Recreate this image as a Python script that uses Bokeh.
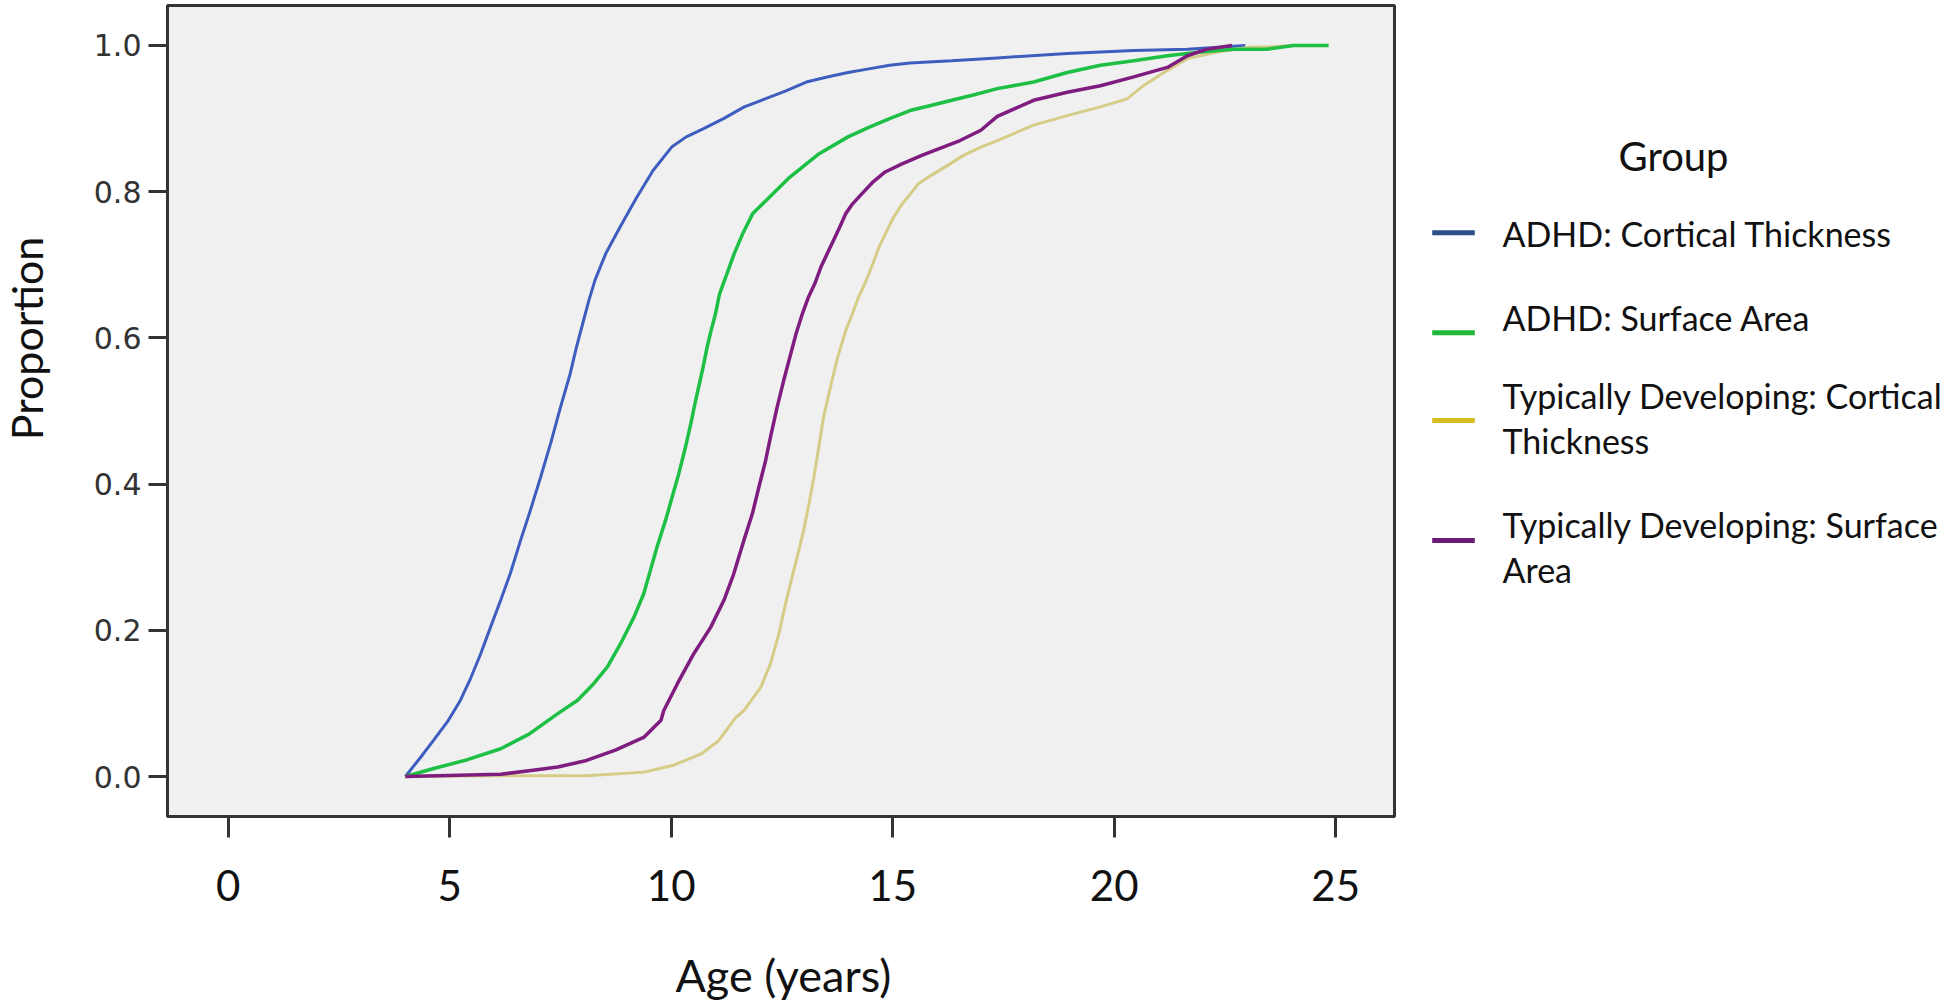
import numpy as np
from bokeh.plotting import figure
from bokeh.layouts import row, column
from bokeh.models import Range1d, FixedTicker, PrintfTickFormatter
from bokeh.core.properties import value
from bokeh.embed import file_html
from bokeh.resources import INLINE

# ---------------- data ----------------
blue_age = [4.00, 4.34, 4.63, 4.95, 5.24, 5.47, 5.70, 5.92, 6.15, 6.37, 6.60, 6.82, 7.05, 7.28, 7.50,
            7.72, 7.86, 8.00, 8.14, 8.28, 8.52, 8.84, 9.22, 9.59, 10.01, 10.34, 10.72, 11.18, 11.65,
            12.12, 12.59, 13.05, 13.52, 13.99, 14.46, 14.93, 15.39, 16.33, 17.36, 18.94, 20.44, 21.65, 22.96]
blue_prop = [0.000, 0.026, 0.049, 0.075, 0.104, 0.134, 0.168, 0.204, 0.241, 0.278, 0.323, 0.364, 0.409,
             0.456, 0.505, 0.551, 0.587, 0.619, 0.651, 0.679, 0.715, 0.751, 0.792, 0.829, 0.861, 0.875,
             0.886, 0.900, 0.916, 0.927, 0.938, 0.950, 0.957, 0.963, 0.968, 0.973, 0.976, 0.979, 0.983,
             0.989, 0.993, 0.995, 1.000]

green_age = [4.00, 4.64, 5.40, 6.15, 6.79, 7.44, 7.88, 8.25, 8.56, 8.86, 9.16, 9.38, 9.53, 9.68, 9.87,
             10.02, 10.17, 10.32, 10.44, 10.55, 10.72, 10.81, 10.90, 11.00, 11.09, 11.23, 11.42, 11.61,
             11.84, 12.21, 12.68, 13.34, 13.99, 14.46, 14.93, 15.39, 15.86, 16.33, 16.80, 17.36, 18.18,
             18.94, 19.69, 20.44, 21.20, 21.95, 22.69, 23.45, 24.05, 24.84]
green_prop = [0.000, 0.011, 0.023, 0.038, 0.058, 0.086, 0.104, 0.127, 0.150, 0.182, 0.218, 0.250, 0.282,
              0.314, 0.350, 0.382, 0.414, 0.450, 0.482, 0.514, 0.560, 0.587, 0.610, 0.633, 0.660, 0.683,
              0.715, 0.742, 0.770, 0.792, 0.820, 0.852, 0.875, 0.888, 0.900, 0.911, 0.918, 0.925, 0.932,
              0.941, 0.950, 0.963, 0.973, 0.979, 0.986, 0.991, 0.995, 0.995, 1.000, 1.000]

yellow_age = [4.00, 6.15, 8.09, 9.39, 10.03, 10.68, 11.07, 11.46, 11.64, 12.02, 12.24, 12.43, 12.58,
              12.73, 12.88, 12.99, 13.11, 13.22, 13.33, 13.44, 13.63, 13.76, 13.85, 13.94, 14.09, 14.23,
              14.37, 14.55, 14.69, 14.83, 15.02, 15.21, 15.40, 15.58, 15.86, 16.24, 16.61, 16.99, 17.36,
              18.18, 18.94, 19.69, 20.29, 20.66, 21.20, 21.65, 22.33, 23.08, 23.45, 24.05]
yellow_prop = [0.000, 0.001, 0.001, 0.006, 0.015, 0.031, 0.049, 0.081, 0.090, 0.122, 0.154, 0.195, 0.236,
               0.273, 0.309, 0.337, 0.373, 0.409, 0.450, 0.492, 0.542, 0.574, 0.592, 0.610, 0.633, 0.656,
               0.674, 0.701, 0.724, 0.742, 0.765, 0.783, 0.797, 0.811, 0.822, 0.836, 0.850, 0.861, 0.870,
               0.891, 0.904, 0.916, 0.927, 0.945, 0.966, 0.982, 0.991, 0.998, 0.998, 1.000]

purple_age = [4.00, 6.15, 6.79, 7.44, 8.09, 8.74, 9.39, 9.77, 9.83, 10.14, 10.51, 10.89, 11.19, 11.41,
              11.64, 11.83, 11.98, 12.13, 12.24, 12.39, 12.54, 12.68, 12.82, 12.96, 13.10, 13.24, 13.38,
              13.52, 13.66, 13.80, 13.94, 14.09, 14.27, 14.55, 14.83, 15.21, 15.67, 16.05, 16.52, 16.99,
              17.36, 18.18, 18.94, 19.69, 20.44, 21.20, 21.65, 22.10, 22.66]
purple_prop = [0.000, 0.003, 0.008, 0.013, 0.022, 0.036, 0.054, 0.077, 0.090, 0.127, 0.168, 0.204, 0.241,
               0.277, 0.323, 0.359, 0.396, 0.432, 0.464, 0.505, 0.542, 0.574, 0.606, 0.633, 0.656, 0.674,
               0.697, 0.715, 0.733, 0.751, 0.770, 0.783, 0.795, 0.813, 0.827, 0.838, 0.850, 0.859, 0.870,
               0.884, 0.903, 0.925, 0.936, 0.945, 0.957, 0.970, 0.986, 0.995, 1.000]

legend_title = "Group"
group_labels = ["ADHD: Cortical Thickness",
                "ADHD: Surface Area",
                "Typically Developing: Cortical\nThickness",
                "Typically Developing: Surface\nArea"]
x_title = "Age (years)"
y_title = "Proportion"
x_ticks = [0, 5, 10, 15, 20, 25]
y_ticks = [0.0, 0.2, 0.4, 0.6, 0.8, 1.0]

line_colors = ["#3e5ebf", "#1dbf44", "#d5cd87", "#7f1c7f"]
swatch_colors = ["#2c4f8c", "#22b83a", "#d6bd24", "#6b1a75"]

TOTAL_W, TOTAL_H = 1950, 1001
INK = "#111111"


def blank(width, height):
    f = figure(width=width, height=height, output_backend="svg", toolbar_location=None,
               x_range=Range1d(0, width), y_range=Range1d(0, height),
               x_axis_type=None, y_axis_type=None, min_border=0)
    f.grid.visible = False
    f.outline_line_color = None
    f.background_fill_color = "white"
    f.border_fill_color = "white"
    return f


# ---------------- left strip: y axis title ----------------
LEFT_W = 60
left = blank(LEFT_W, TOTAL_H)
left.text(x=[26], y=[TOTAL_H - 338], text=[y_title], angle=np.pi / 2,
          text_align="center", text_baseline="alphabetic",
          text_font=value("Lato"), text_font_size="43px", text_color=INK)

# ---------------- main plot ----------------
MAIN_W, MAIN_H = 1336, 946
p = figure(width=MAIN_W, height=MAIN_H, output_backend="svg", toolbar_location=None,
           x_range=Range1d(-1.370, 26.327), y_range=Range1d(-0.0547, 1.0547),
           min_border_left=107, min_border_right=2, min_border_top=5, min_border_bottom=130)

p.background_fill_color = "#f0f0f0"
p.border_fill_color = "white"
p.outline_line_color = "#333333"
p.outline_line_width = 3
p.grid.visible = False

ax = p.xaxis[0]
ax.ticker = FixedTicker(ticks=x_ticks)
ax.major_label_text_font = "Lato"
ax.major_label_text_font_size = "42px"
ax.major_label_text_color = INK
ax.major_label_standoff = 32
ax.major_tick_out = 21
ax.major_tick_in = 0
ax.minor_tick_out = 0
ax.minor_tick_in = 0
ax.major_tick_line_width = 3
ax.major_tick_line_color = "#333333"
ax.axis_line_width = 3
ax.axis_line_color = "#333333"

ay = p.yaxis[0]
ay.ticker = FixedTicker(ticks=y_ticks)
ay.formatter = PrintfTickFormatter(format="%.1f")
ay.major_label_text_font = "DejaVu Sans"
ay.major_label_text_font_size = "30px"
ay.major_label_text_color = "#333333"
ay.major_label_standoff = 7
ay.major_tick_out = 19
ay.major_tick_in = 0
ay.minor_tick_out = 0
ay.minor_tick_in = 0
ay.major_tick_line_width = 3
ay.major_tick_line_color = "#333333"
ay.axis_line_width = 3
ay.axis_line_color = "#333333"

p.line(blue_age, blue_prop, line_color=line_colors[0], line_width=3)
p.line(yellow_age, yellow_prop, line_color=line_colors[2], line_width=3)
p.line(green_age, green_prop, line_color=line_colors[1], line_width=3.5)
p.line(purple_age, purple_prop, line_color=line_colors[3], line_width=3.5)

# ---------------- strip under the plot: x axis title ----------------
BOT_H = TOTAL_H - MAIN_H
bottom = blank(MAIN_W, BOT_H)
bottom.text(x=[553], y=[26.5], text=[x_title], text_align="left", text_baseline="alphabetic",
            text_font=value("Lato"), text_font_size="45px", text_color=INK)

# ---------------- legend strip ----------------
LEG_W = TOTAL_W - LEFT_W - MAIN_W
leg = blank(LEG_W, TOTAL_H)
leg.text(x=[222], y=[845.6], text=[legend_title], text_align="left", text_baseline="alphabetic",
         text_font=value("Lato"), text_font_size="40px", text_color=INK)

swatch_y = [768.7, 668.7, 581, 461]
leg.segment(x0=[35.7] * 4, x1=[78.3] * 4, y0=swatch_y, y1=swatch_y,
            line_color=swatch_colors, line_width=5)

line_texts = []
for lab in group_labels:
    line_texts.extend(lab.split("\n"))
line_y = [768.3, 684.3, 606.3, 561.3, 477.3, 432.3]
leg.text(x=[106] * len(line_texts), y=line_y, text=line_texts,
         text_align="left", text_baseline="alphabetic",
         text_font=value("Lato"), text_font_size="34px", text_color=INK)

layout = row(left, column(p, bottom, spacing=0), leg, spacing=0)
open("out.html", "w").write(file_html(layout, INLINE))
